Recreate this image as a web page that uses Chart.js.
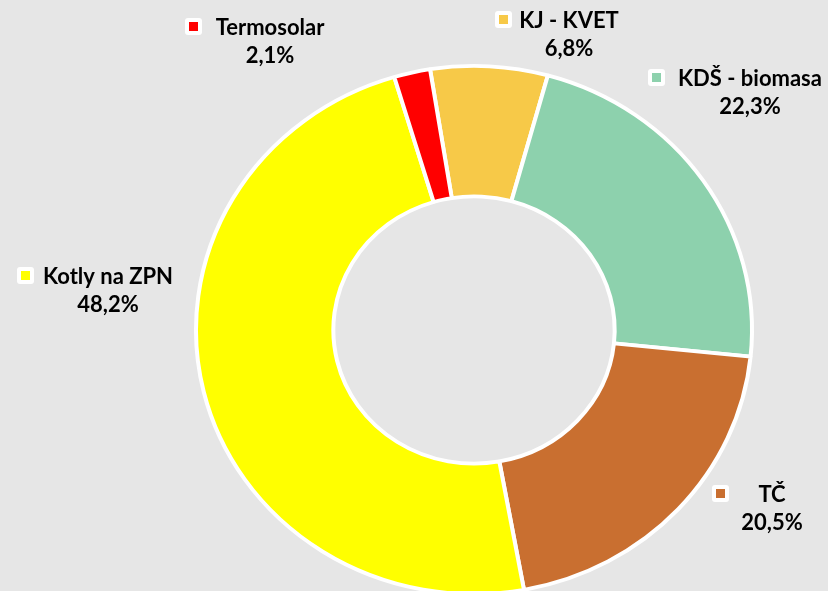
<!DOCTYPE html>
<html>
<head>
<meta charset="utf-8">
<script src="https://cdn.jsdelivr.net/npm/chart.js@4.4.1/dist/chart.umd.min.js"></script>
<style>
  html, body { margin: 0; padding: 0; background: #e6e6e6; }
  canvas { display: block; }
</style>
</head>
<body>
<canvas id="js--chart" width="828" height="591"></canvas>
<script>
// zdroje tepla - podil
const categories = ['KJ - KVET', 'KDŠ - biomasa', 'TČ', 'Kotly na ZPN', 'Termosolar'];
const shares = [6.8, 22.3, 20.5, 48.2, 2.1];
const shareLabels = ['6,8%', '22,3%', '20,5%', '48,2%', '2,1%'];
const colors = ['#f7c948', '#8dd1ad', '#c96f30', '#ffff00', '#ff0000'];

// where each label sits: [text center x, first baseline y, key left x]
const labelSpots = [
  [569, 28, 495],
  [750, 86, 648],
  [772, 502, 712],
  [108, 284, 17],
  [270, 35, 185],
];

const FONT = 'bold 22px Lato';

// excel draws the ring a bit flatter than a circle
const squash = {
  id: 'squash',
  beforeDatasetsDraw(chart) {
    const arc = chart.getDatasetMeta(0).data[0];
    const ctx = chart.ctx;
    ctx.save();
    ctx.translate(arc.x, arc.y);
    ctx.scale(1, 0.95);
    ctx.translate(-arc.x, -arc.y);
  },
  afterDatasetsDraw(chart) {
    chart.ctx.restore();
  }
};

function roundRect(ctx, x, y, w, h, r) {
  ctx.beginPath();
  ctx.moveTo(x + r, y);
  ctx.arcTo(x + w, y, x + w, y + h, r);
  ctx.arcTo(x + w, y + h, x, y + h, r);
  ctx.arcTo(x, y + h, x, y, r);
  ctx.arcTo(x, y, x + w, y, r);
  ctx.closePath();
}

const labelsPlugin = {
  id: 'labelsPlugin',
  afterDraw(chart) {
    const ctx = chart.ctx;
    ctx.save();
    ctx.font = FONT;
    ctx.textAlign = 'center';
    ctx.textBaseline = 'alphabetic';
    categories.forEach((name, i) => {
      const [cx, by, kx] = labelSpots[i];
      // key
      ctx.fillStyle = '#fff';
      roundRect(ctx, kx, by - 17, 17, 17, 3);
      ctx.fill();
      ctx.fillStyle = colors[i];
      ctx.fillRect(kx + 4, by - 13, 9, 9);
      // text
      ctx.fillStyle = '#000';
      ctx.fillText(name, cx, by);
      ctx.fillText(shareLabels[i], cx, by + 28);
    });
    ctx.restore();
  }
};

const chart1 = new Chart(document.getElementById('js--chart'), {
  type: 'doughnut',
  data: {
    labels: categories,
    datasets: [{
      data: shares,
      backgroundColor: colors,
      borderColor: '#ffffff',
      borderWidth: 4,
      clip: false
    }]
  },
  options: {
    responsive: false,
    animation: false,
    rotation: -9.1,
    cutout: '50.6%',
    radius: 278,
    layout: { padding: { left: 120, right: 0, top: 69, bottom: 0 } },
    plugins: {
      legend: { display: false },
      tooltip: { enabled: false }
    }
  },
  plugins: [squash, labelsPlugin]
});
</script>
</body>
</html>
